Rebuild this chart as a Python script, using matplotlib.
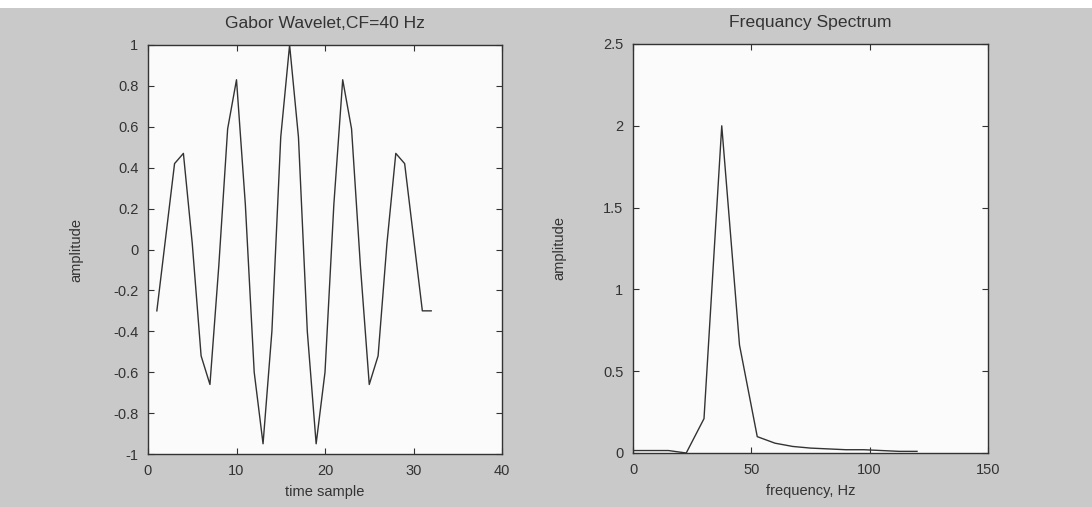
import numpy as np
from matplotlib import pyplot as plt
from matplotlib.patches import Rectangle

# Gabor wavelet, échantillons 1..32
time_sample = list(range(1, 33))
wavelet = [
    -0.30, 0.06, 0.42, 0.47, 0.03, -0.52, -0.66, -0.08,
    0.59, 0.83, 0.22, -0.60, -0.95, -0.40, 0.55, 1.00,
    0.55, -0.40, -0.95, -0.60, 0.22, 0.83, 0.59, -0.08,
    -0.66, -0.52, 0.03, 0.47, 0.42, 0.06, -0.30, -0.30,
]

# Spectre (pas de 7.5 Hz)
freq = [0, 7.5, 15, 22.5, 30, 37.5, 45, 52.5, 60, 67.5,
        75, 82.5, 90, 97.5, 105, 112.5, 120]
spectrum = [0.015, 0.015, 0.015, 0.0, 0.21, 2.0, 0.66, 0.10, 0.06, 0.04,
            0.03, 0.025, 0.02, 0.02, 0.015, 0.01, 0.01]

BG = "#c9c9c9"
INK = "#333333"

plt.rcParams["font.family"] = ["Liberation Sans", "DejaVu Sans"]
plt.rcParams["font.size"] = 10.5

fig = plt.figure(figsize=(10.92, 5.07), dpi=100, facecolor=BG)
# bande blanche en haut
fig.add_artist(Rectangle((0, 1 - 8 / 507), 1, 8 / 507, transform=fig.transFigure,
                         facecolor="white", edgecolor="none"))

ax1 = fig.add_axes([148 / 1092, 53 / 507, 354 / 1092, 409 / 507])
ax2 = fig.add_axes([633 / 1092, 54 / 507, 355 / 1092, 409 / 507])

ax1.plot(time_sample, wavelet, color=INK, linewidth=1.0)
ax1.set_xlim(0, 40)
ax1.set_ylim(-1, 1)
ax1.set_xticks([0, 10, 20, 30, 40])
ax1.set_yticks(np.round(np.arange(-1, 1.01, 0.2), 1))
ax1.set_yticklabels(["-1", "-0.8", "-0.6", "-0.4", "-0.2", "0",
                     "0.2", "0.4", "0.6", "0.8", "1"])
ax1.set_title("Gabor Wavelet,CF=40 Hz", color=INK, pad=12)
ax1.set_xlabel("time sample", color=INK, labelpad=5)
ax1.set_ylabel("amplitude", color=INK, labelpad=21)

ax2.plot(freq, spectrum, color=INK, linewidth=1.0)
ax2.set_xlim(0, 150)
ax2.set_ylim(0, 2.5)
ax2.set_xticks([0, 50, 100, 150])
ax2.set_yticks([0, 0.5, 1, 1.5, 2, 2.5])
ax2.set_yticklabels(["0", "0.5", "1", "1.5", "2", "2.5"])
ax2.set_title("Frequancy Spectrum", color=INK, pad=12)
ax2.set_xlabel("frequency, Hz", color=INK, labelpad=5)
ax2.set_ylabel("amplitude", color=INK, labelpad=26)

for ax in (ax1, ax2):
    ax.set_facecolor("#fbfbfb")
    ax.tick_params(direction="in", top=True, right=True, length=4,
                   width=0.8, colors=INK, labelcolor=INK, pad=7)
    for s in ax.spines.values():
        s.set_color(INK)
        s.set_linewidth(1.0)

plt.savefig("out.png", dpi=100, facecolor=BG)
plt.close()
